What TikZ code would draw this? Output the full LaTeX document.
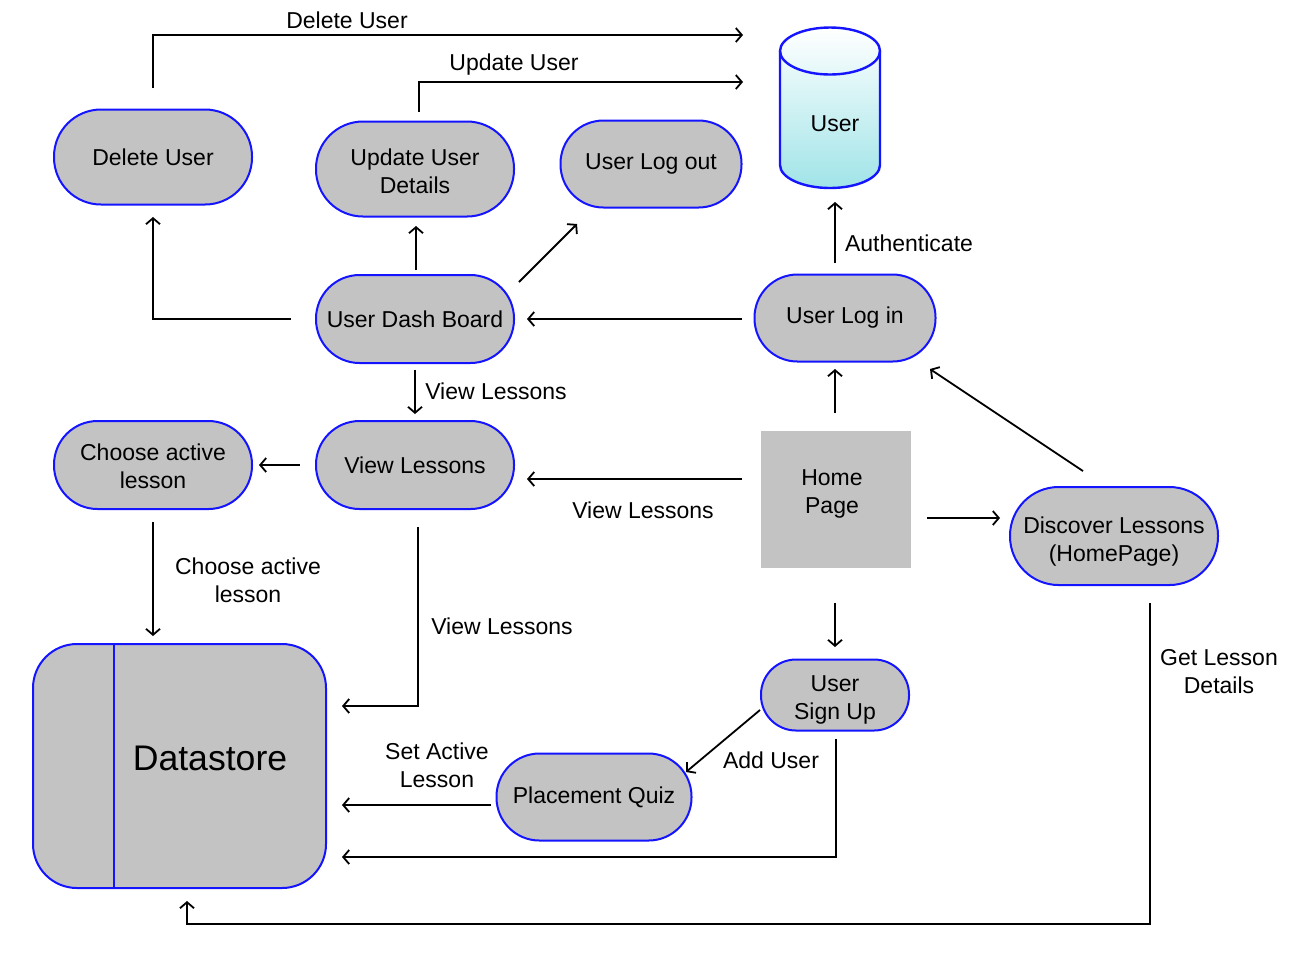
\documentclass[tikz,border=0pt]{standalone}
\usepackage{fontspec}
\setmainfont{Liberation Sans}
\usetikzlibrary{arrows.meta}
\definecolor{nodegrey}{RGB}{195,195,195}
\definecolor{nodeblue}{RGB}{20,20,255}
\definecolor{cylcyan}{RGB}{160,228,232}
\begin{document}
\begin{tikzpicture}[x=0.5pt,y=-0.5pt,
 every node/.style={font=\fontsize{11.5pt}{14pt}\selectfont, text=black},
 pill/.style={draw=nodeblue, fill=nodegrey, line width=1pt, align=center, inner sep=0pt},
 arr/.style={-{Straight Barb[length=3pt,width=7pt]}, line width=0.9pt},
 lbl/.style={align=center, inner sep=0pt}]
\useasboundingbox[fill=white] (0,0) rectangle (1305,971);

% nodes
\node[pill, minimum width=99pt, minimum height=47.5pt, rounded corners=23.5pt] (del) at (153,157) {Delete User};
\node[pill, minimum width=99pt, minimum height=47.5pt, rounded corners=23.5pt] (upd) at (415,169) {};
\node[lbl] (updtext) at (415,171) {Update User\\Details};
\node[pill, minimum width=90.5pt, minimum height=43.5pt, rounded corners=21.5pt] (logout) at (651,164) {User Log out};
\node[pill, minimum width=99pt, minimum height=44pt, rounded corners=21.8pt] (dash) at (415,319) {User Dash Board};
\node[pill, minimum width=90.5pt, minimum height=43.5pt, rounded corners=21.5pt] (login) at (845,318) {User Log in};
\node[pill, minimum width=99pt, minimum height=44pt, rounded corners=21.8pt] (choose) at (153,465) {};
\node[lbl] (choosetext) at (153,466) {Choose active\\lesson};
\node[pill, minimum width=99pt, minimum height=44pt, rounded corners=21.8pt] (view) at (415,465) {View Lessons};
\node[pill, minimum width=104pt, minimum height=49pt, rounded corners=24.3pt] (disc) at (1114,536) {};
\node[lbl] (disctext) at (1114,542) {Discover Lessons\\(HomePage)};
\node[pill, minimum width=74pt, minimum height=35.5pt, rounded corners=17.5pt] (signup) at (835,695) {};
\node[lbl] (signuptext) at (835,700) {User\\Sign Up};
\node[pill, minimum width=97.5pt, minimum height=43.5pt, rounded corners=21.5pt] (quiz) at (594,797) {Placement Quiz};
\node[fill=nodegrey, minimum width=75pt, minimum height=68.5pt, inner sep=0pt] (home) at (836,499.5) {};
\node[lbl] (hometext) at (832,494) {Home\\Page};

% datastore
\node[draw=nodeblue, fill=nodegrey, line width=1pt, rounded corners=22pt, minimum width=146.5pt, minimum height=122pt] (ds) at (179.5,766) {};
\draw[nodeblue, line width=1pt] (ds.north west) ++(82,0) -- ++(0,244);
\node[font=\fontsize{17.8pt}{20pt}\selectfont] (dstext) at (210,758) {Datastore};

% user cylinder
\shade[top color=white, bottom color=cylcyan] (780,51) -- (780,165) arc[start angle=180, end angle=0, x radius=50, y radius=23] -- (880,51) arc[start angle=0, end angle=-180, x radius=50, y radius=23] -- cycle;
\draw[nodeblue, line width=1.2pt] (780,51) -- (780,165) arc[start angle=180, end angle=0, x radius=50, y radius=23] -- (880,51);
\draw[nodeblue, line width=1.2pt] (830,51) ellipse[x radius=50, y radius=23.5];
\node (user) at (835,124) {User};

% connector endpoints
\coordinate (c1a) at (153,88);   \coordinate (c1b) at (743,35);
\coordinate (c2a) at (419,112);  \coordinate (c2b) at (743,82);
\coordinate (c3a) at (291,319);  \coordinate (c3b) at (153,217);
\coordinate (c4a) at (416,270);  \coordinate (c4b) at (416,226);
\coordinate (c5a) at (519,282);  \coordinate (c5b) at (577,224);
\coordinate (c6a) at (742,319);  \coordinate (c6b) at (527,319);
\coordinate (c7a) at (835,263);  \coordinate (c7b) at (835,202);
\coordinate (c8a) at (415,370);  \coordinate (c8b) at (415,414);
\coordinate (c9a) at (835,413);  \coordinate (c9b) at (835,369);
\coordinate (c10a) at (1083,471); \coordinate (c10b) at (930,369);
\coordinate (c11a) at (742,479); \coordinate (c11b) at (527,479);
\coordinate (c12a) at (927,518); \coordinate (c12b) at (1000,518);
\coordinate (c13a) at (300,465); \coordinate (c13b) at (259,465);
\coordinate (c14a) at (153,522); \coordinate (c14b) at (153,636);
\coordinate (c15a) at (418,527); \coordinate (c15b) at (342,706);
\coordinate (c16a) at (835,603); \coordinate (c16b) at (835,647);
\coordinate (c17a) at (760,710); \coordinate (c17b) at (686,772);
\coordinate (c18a) at (836,739); \coordinate (c18b) at (342,857);
\coordinate (c19a) at (491,805); \coordinate (c19b) at (342,805);
\coordinate (c20a) at (1150,603); \coordinate (c20b) at (187,924); \coordinate (c20c) at (187,901);

\draw[arr] (c1a) |- (c1b);
\draw[arr] (c2a) |- (c2b);
\draw[arr] (c3a) -| (c3b);
\draw[arr] (c4a) -- (c4b);
\draw[arr] (c5a) -- (c5b);
\draw[arr] (c6a) -- (c6b);
\draw[arr] (c7a) -- (c7b);
\draw[arr] (c8a) -- (c8b);
\draw[arr] (c9a) -- (c9b);
\draw[arr] (c10a) -- (c10b);
\draw[arr] (c11a) -- (c11b);
\draw[arr] (c12a) -- (c12b);
\draw[arr] (c13a) -- (c13b);
\draw[arr] (c14a) -- (c14b);
\draw[arr] (c15a) |- (c15b);
\draw[arr] (c16a) -- (c16b);
\draw[arr] (c17a) -- (c17b);
\draw[arr] (c18a) |- (c18b);
\draw[arr] (c19a) -- (c19b);
\draw[arr] (c20a) |- (c20b) -- (c20c);

% labels
\node[lbl] (l1) at (347,20) {Delete User};
\node[lbl] (l2) at (514,65) {Update User};
\node[lbl] (l7) at (909,243) {Authenticate};
\node[lbl] (l8) at (496,391) {View Lessons};
\node[lbl] (l11) at (643,510) {View Lessons};
\node[lbl] (l14) at (248,580) {Choose active\\lesson};
\node[lbl] (l15) at (502,626) {View Lessons};
\node[lbl] (l17) at (771,760) {Add User};
\node[lbl] (l19) at (437,765) {Set Active\\Lesson};
\node[lbl] (l20) at (1219,672) {Get Lesson\\Details};
\end{tikzpicture}
\end{document}
